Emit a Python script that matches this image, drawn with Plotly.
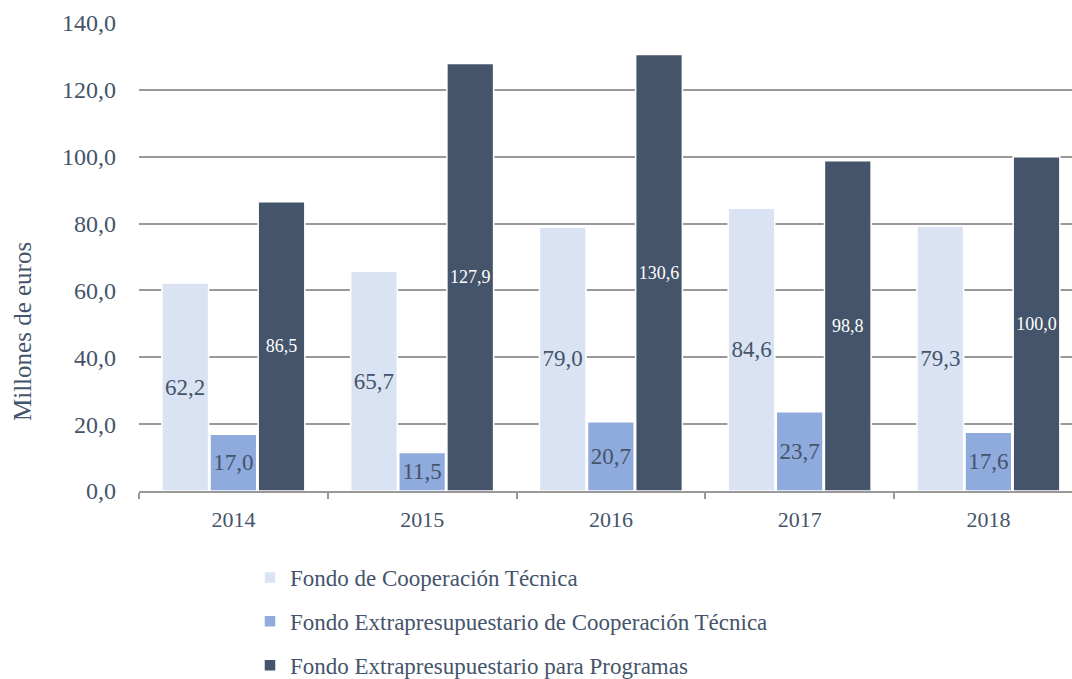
import plotly.graph_objects as go

years = ["2014", "2015", "2016", "2017", "2018"]
fct = [62.2, 65.7, 79.0, 84.6, 79.3]
fect = [17.0, 11.5, 20.7, 23.7, 17.6]
fep = [86.5, 127.9, 130.6, 98.8, 100.0]
names = ["Fondo de Cooperación Técnica",
         "Fondo Extrapresupuestario de Cooperación Técnica",
         "Fondo Extrapresupuestario para Programas"]
colors = ["#DAE3F3", "#8FAADC", "#44546A"]
ytick_vals = [0, 20, 40, 60, 80, 100, 120, 140]

FONT = "Liberation Serif"
TXT = "#44546A"

def fmt(v):
    return f"{v:.1f}".replace(".", ",")

fig = go.Figure()
series = [fct, fect, fep]
for i, (vals, name, col) in enumerate(zip(series, names, colors)):
    fig.add_trace(go.Bar(
        x=years, y=vals, name=name,
        marker=dict(color=col, line=dict(color="white", width=1.5)),
        text=[fmt(v) for v in vals],
        textposition="inside", insidetextanchor="middle",
        constraintext="none",
        textfont=dict(family=FONT, size=18 if i == 2 else 23,
                      color="white" if i == 2 else TXT),
        legendgroup=f"g{i}",
        hoverinfo="skip",
    ))

L, R, T, B = 139, 0, 23, 188
plot_w = 1072 - L - R
plot_h = 679 - T - B

fig.update_layout(
    width=1072, height=679,
    margin=dict(l=L, r=R, t=T, b=B, autoexpand=False),
    paper_bgcolor="white", plot_bgcolor="white",
    barmode="group", bargap=0.235, bargroupgap=0.03,
    separators=",.",
    font=dict(family=FONT, color=TXT, size=20),
    showlegend=True,
    legend=dict(orientation="v", x=(250 - L) / plot_w, xanchor="left",
                y=(491 - 556) / plot_h, yanchor="top",
                font=dict(family=FONT, size=23, color=TXT),
                tracegroupgap=11, itemwidth=30,
                traceorder="grouped", bgcolor="rgba(0,0,0,0)"),
    annotations=[dict(text="Millones de euros", textangle=-90,
                      x=(22 - L) / plot_w, xref="paper", xanchor="center",
                      y=(491 - 332) / plot_h, yref="paper", yanchor="middle",
                      showarrow=False, font=dict(family=FONT, size=25, color=TXT))],
)

fig.update_xaxes(type="category", range=[-0.5, 4.443],
                 showgrid=False, showline=True, linecolor="#999999", linewidth=1.8,
                 ticks="outside", tickson="boundaries", ticklen=6, tickcolor="#999999",
                 tickwidth=1.8, ticklabelstandoff=8,
                 tickfont=dict(family=FONT, size=22, color=TXT))
fig.update_yaxes(range=[0, 140], tickvals=ytick_vals,
                 ticktext=[fmt(v) for v in ytick_vals],
                 showgrid=True, gridcolor="#999999", gridwidth=1.8,
                 zeroline=False, showline=False, ticks="",
                 ticklabelstandoff=22,
                 tickfont=dict(family=FONT, size=24, color=TXT))

fig.write_html("out.html", config={"displayModeBar": False},
               post_script="document.body.style.margin='0';document.body.style.overflow='hidden';")
